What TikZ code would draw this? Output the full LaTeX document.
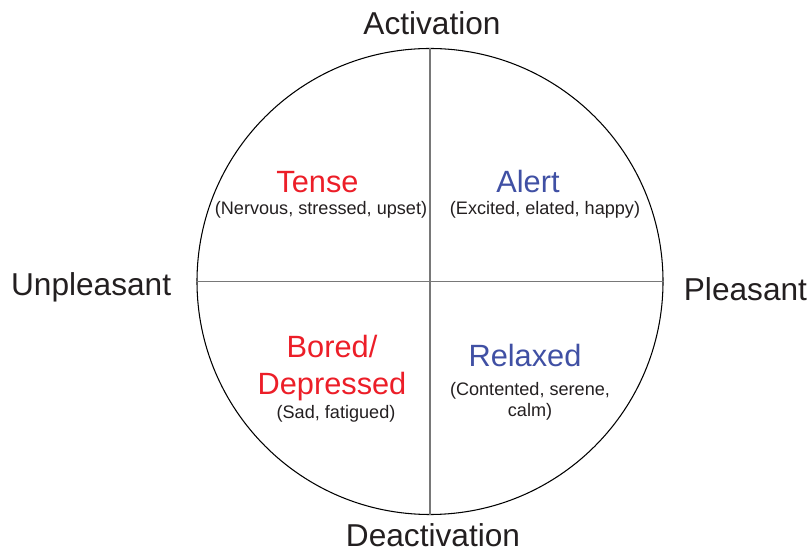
\documentclass[tikz,border=0pt]{standalone}
\usepackage{fontspec}
\setmainfont{Liberation Sans}
\usepackage{xcolor}
\usepackage{tikz}
\usetikzlibrary{positioning, calc}
\definecolor{inkgray}{RGB}{35, 31, 32}
\definecolor{axisgray}{RGB}{120, 120, 120}
\definecolor{moodred}{RGB}{236, 30, 40}
\definecolor{moodblue}{RGB}{64, 80, 164}
\tikzset{
    axislabel/.style={inner sep=0pt, text=inkgray,
                      font=\fontsize{18}{21.6}\selectfont},
    moodtitle/.style={inner sep=0pt, align=center, text=#1,
                      font=\fontsize{17.5}{21.5}\selectfont},
    mooddesc/.style={inner sep=0pt, align=center, text=inkgray,
                     font=\fontsize{10.3}{12.5}\selectfont},
}

\begin{document}
\begin{tikzpicture}[
    axis/.style={line width=1pt, axisgray},
]
    \useasboundingbox (0,0) rectangle (16.2,11);

    % Circumplex
    \node[circle, draw=black, line width=0.6pt, minimum size=9.32cm,
          inner sep=0pt] (wheel) at (8.6,5.37) {};

    % Axes
    \draw[axis] (wheel.north) -- (wheel.south);
    \draw[axis] (wheel.west) -- (wheel.east);

    % Axis labels
    \node[axislabel, anchor=base] (act) at ($(wheel.north)+(0.04,0.26)$) {Activation};
    \node[axislabel, anchor=base] (deact) at ($(wheel.south)+(0.06,-0.62)$) {Deactivation};
    \node[axislabel, anchor=base east] (unpl) at ($(wheel.west)+(-0.5,-0.29)$) {Unpleasant};
    \node[axislabel, anchor=base west] (pleas) at ($(wheel.east)+(0.4,-0.39)$) {Pleasant};

    % Quadrant: upper left
    \node[moodtitle=moodred, anchor=base] (tense) at ($(wheel.center)+(-2.25,1.77)$) {Tense};
    \node[mooddesc, anchor=base] (tensedesc) at ($(wheel.center)+(-2.18,1.33)$)
        {(Nervous, stressed, upset)};

    % Quadrant: upper right
    \node[moodtitle=moodblue, anchor=base] (alert) at ($(wheel.center)+(1.96,1.77)$) {Alert};
    \node[mooddesc, anchor=base] (alertdesc) at ($(wheel.center)+(2.30,1.33)$)
        {(Excited, elated, happy)};

    % Quadrant: lower left (base sits on the last line)
    \node[moodtitle=moodred, anchor=base] (bored) at ($(wheel.center)+(-1.96,-2.27)$)
        {Bored/\\Depressed};
    \node[mooddesc, anchor=base] (boreddesc) at ($(wheel.center)+(-1.88,-2.75)$)
        {(Sad, fatigued)};

    % Quadrant: lower right
    \node[moodtitle=moodblue, anchor=base] (relaxed) at ($(wheel.center)+(1.90,-1.71)$) {Relaxed};
    \node[mooddesc, anchor=base] (relaxeddesc) at ($(wheel.center)+(2.0,-2.71)$)
        {(Contented, serene,\\calm)};
\end{tikzpicture}
\end{document}
